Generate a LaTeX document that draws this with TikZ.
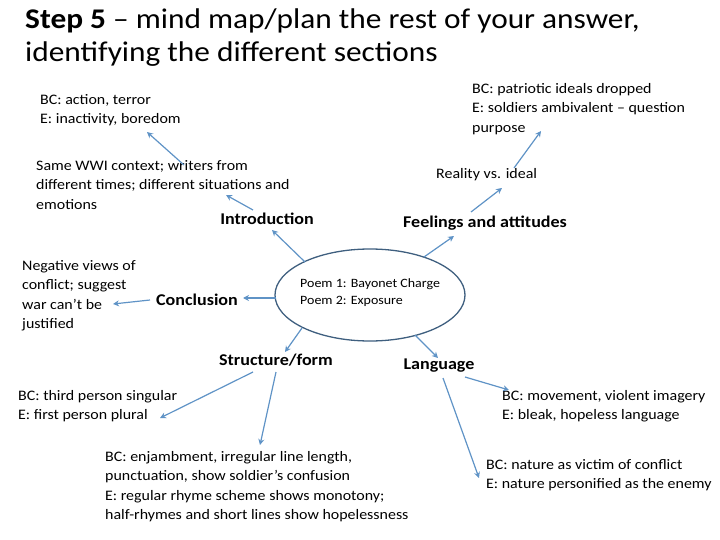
\documentclass[tikz,border=0pt]{standalone}
\usepackage{fontspec}
\setmainfont[FakeStretch=1.1]{Carlito}
\usetikzlibrary{arrows.meta,shapes.geometric}
\definecolor{arrowblue}{HTML}{5F93C6}
\definecolor{ringblue}{HTML}{3F5F7F}
\begin{document}
\begin{tikzpicture}[x=1pt,y=-1pt,
  note/.style={anchor=north west,inner sep=0pt,align=left,font=\fontsize{14.5}{19.5}\selectfont},
  head/.style={inner sep=1pt,font=\fontsize{16.4}{18}\selectfont\bfseries},
  link/.style={-{Stealth[length=6pt,width=6pt]},arrowblue,line width=1.2pt}]
			\useasboundingbox (0,0) rectangle (720,540);
			\node[anchor=north west,inner sep=0pt,align=left,font=\fontsize{28.5}{33}\selectfont] (title) at (25,9)
			  {\textbf{Step 5} -- mind map/plan the rest of your answer,\\identifying the different sections};
			
			\node[draw=ringblue,line width=1.3pt,ellipse,minimum width=190pt,minimum height=92pt] (poem) at (370,295) {};
			\node[anchor=north west,inner sep=0pt,align=left,font=\fontsize{12.7}{17}\selectfont] (poems) at (300,278)
			  {Poem 1: Bayonet Charge\\Poem 2: Exposure};
			
			\node[head] (intro) at (267,219) {Introduction};
			\node[head] (feel) at (485,223) {Feelings and attitudes};
			\node[head] (concl) at (197,300) {Conclusion};
			\node[head] (struct) at (276,360) {Structure/form};
			\node[head] (lang) at (439,366) {Language};
			
			\node[note] (action) at (40,94) {BC: action, terror\\E: inactivity, boredom};
			\node[note] (patriot) at (472,83) {BC: patriotic ideals dropped\\E: soldiers ambivalent -- question\\purpose};
			\node[note] (context) at (36,160) {Same WWI context; writers from\\different times; different situations and\\emotions};
			\node[note] (reality) at (436,168) {Reality vs. ideal};
			\node[note] (negative) at (22,260) {Negative views of\\conflict; suggest\\war can't be\\justified};
			\node[note] (third) at (18,390) {BC: third person singular\\E: first person plural};
			\node[note] (movement) at (502,390) {BC: movement, violent imagery\\E: bleak, hopeless language};
			\node[note] (enjamb) at (105,451) {BC: enjambment, irregular line length,\\punctuation, show soldier's confusion\\E: regular rhyme scheme shows monotony;\\half-rhymes and short lines show hopelessness};
			\node[note] (nature) at (486,459) {BC: nature as victim of conflict\\E: nature personified as the enemy};
			
			\draw[link] (305,262) -- (272,230);
			\draw[link] (253,210) -- (226,195);
			\draw[link] (184,165) -- (147,132);
			\draw[link] (424,257) -- (454,236);
			\draw[link] (471,212) -- (502,188);
			\draw[link] (514,168) -- (541,131);
			\draw[link] (276,298) -- (243,298);
			\draw[link] (150,300) -- (113,304);
			\draw[link] (302,328) -- (285,352);
			\draw[link] (415,335) -- (438,358);
			\draw[link] (253,372) -- (160,418);
			\draw[link] (276,372) -- (260,445);
			\draw[link] (465,377) -- (509,390);
			\draw[link] (443,378) -- (479,478);
			\end{tikzpicture}
\end{document}
